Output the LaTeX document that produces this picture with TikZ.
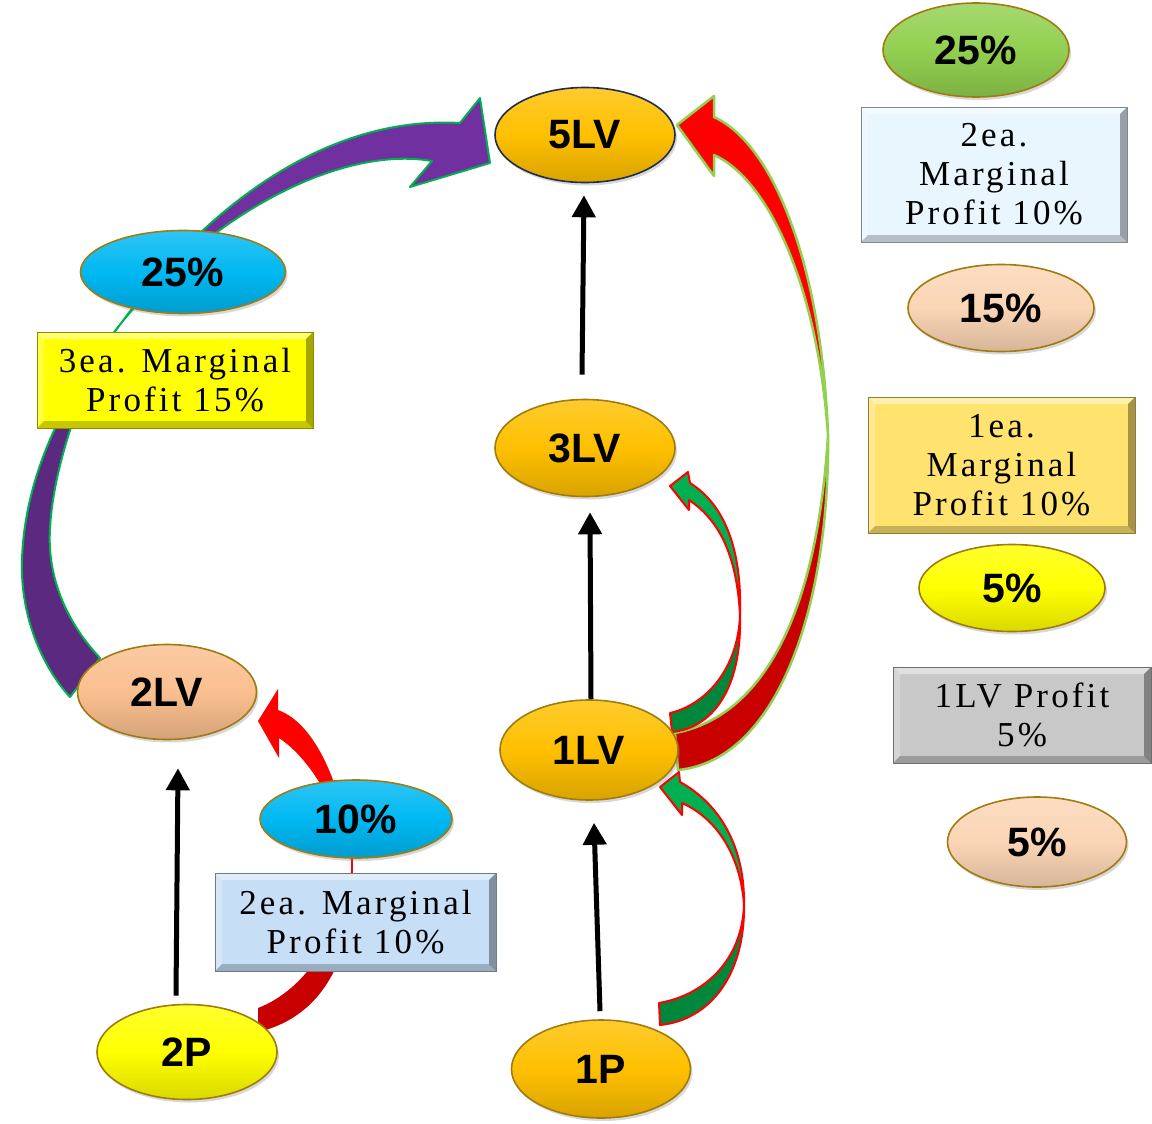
\documentclass[tikz,border=0pt]{standalone}
\usepackage{fontspec}
\usetikzlibrary{shapes.geometric,arrows.meta,shadows}
\newfontfamily\lblfont{Liberation Sans}
\newfontfamily\boxfont[LetterSpace=9]{Liberation Serif}
\definecolor{gold}{HTML}{FFC000}
\definecolor{peach}{HTML}{FABF8F}
\definecolor{lpeach}{HTML}{FBD5B5}
\definecolor{yel}{HTML}{FFFF00}
\definecolor{cyanb}{HTML}{00B8F2}
\definecolor{grn}{HTML}{92D050}
\definecolor{rimgold}{HTML}{A07C10}
\definecolor{navy}{HTML}{1F2D4F}
\definecolor{boxblue}{HTML}{C6DEF6}
\definecolor{boxice}{HTML}{EAF6FE}
\definecolor{boxgold}{HTML}{FFE36E}
\definecolor{boxgray}{HTML}{C8C8C8}
\definecolor{purpA}{HTML}{7030A0}
\definecolor{purpB}{HTML}{5B2A80}
\definecolor{redA}{HTML}{FF0000}
\definecolor{redB}{HTML}{C80000}
\definecolor{greenA}{HTML}{00B050}
\definecolor{greenB}{HTML}{00873C}
\definecolor{outlineG}{HTML}{00B050}
\definecolor{outlineL}{HTML}{92D050}
\tikzset{
  ell/.style={ellipse, inner sep=0pt,
    font=\lblfont\bfseries\fontsize{41}{48}\selectfont,
    top color=#1!82!white, bottom color=#1!85!black, middle color=#1,
    draw=rimgold, line width=1.6pt,
    drop shadow={shadow xshift=2pt, shadow yshift=-3pt, opacity=.3}},
  bevelfx/.style={path picture={
    \fill[white,opacity=.45] (path picture bounding box.north west) -- (path picture bounding box.north east)
      -- ([shift={(-7pt,-7pt)}]path picture bounding box.north east) -- ([shift={(7pt,-7pt)}]path picture bounding box.north west) -- cycle;
    \fill[white,opacity=.25] (path picture bounding box.north west) -- ([shift={(7pt,-7pt)}]path picture bounding box.north west)
      -- ([shift={(7pt,7pt)}]path picture bounding box.south west) -- (path picture bounding box.south west) -- cycle;
    \fill[black,opacity=.35] (path picture bounding box.north east) -- (path picture bounding box.south east)
      -- ([shift={(-7pt,7pt)}]path picture bounding box.south east) -- ([shift={(-7pt,-7pt)}]path picture bounding box.north east) -- cycle;
    \fill[black,opacity=.22] (path picture bounding box.south west) -- (path picture bounding box.south east)
      -- ([shift={(-7pt,7pt)}]path picture bounding box.south east) -- ([shift={(7pt,7pt)}]path picture bounding box.south west) -- cycle;
  }},
  pbox/.style={rectangle, draw=#1!55!black, line width=.8pt, fill=#1, bevelfx,
    align=center, inner sep=0pt, font=\boxfont\fontsize{35}{39}\selectfont},
  blk/.style={line width=5pt, -{Triangle[length=22pt,width=23pt]}},
  band/.style={line join=round}
}
\begin{document}
\begin{tikzpicture}[x=1pt,y=-1pt]
\useasboundingbox (0,0) rectangle (1152,1124);
\fill[white] (0,0) rectangle (1152,1124);

% purple curved arrow 2LV -> 5LV
\filldraw[band, fill=purpB, draw=outlineG, line width=2pt]
  (122,322) .. controls (80,375) and (25,460) .. (22,560)
  .. controls (20,620) and (45,670) .. (70,697) -- (100,658)
  .. controls (55,610) and (48,560) .. (50,530)
  .. controls (52,470) and (85,370) .. (122,322) -- cycle;
\filldraw[band, fill=purpA, draw=outlineG, line width=2pt]
  (122,322) .. controls (200,215) and (320,115) .. (460,123)
  -- (480,98) -- (490,163) -- (410,187) -- (432,161)
  .. controls (340,145) and (210,215) .. (122,322) -- cycle;

% big red arrow 1LV -> 5LV
\filldraw[band, fill=redB, draw=outlineL, line width=2.5pt]
  (828,435) .. controls (830,600) and (780,760) .. (678,770) -- (675,733)
  .. controls (770,715) and (818,600) .. (828,435) -- cycle;
\filldraw[band, fill=redA, draw=outlineL, line width=2.5pt]
  (714,117) .. controls (775,145) and (822,270) .. (828,435)
  .. controls (818,290) and (770,180) .. (714,155)
  -- (714,176) -- (677,125) -- (714,96) -- cycle;

% green arrow 1LV -> 3LV
\filldraw[band, fill=greenB, draw=redA, line width=2pt]
  (740,615) .. controls (742,690) and (712,728) .. (672,732) -- (670,713)
  .. controls (705,705) and (738,670) .. (740,615) -- cycle;
\filldraw[band, fill=greenA, draw=redA, line width=2pt]
  (690,483) .. controls (725,505) and (742,550) .. (740,615)
  .. controls (737,560) and (722,522) .. (689,500)
  -- (689,510) -- (670,486) -- (688,472) -- cycle;

% green arrow 1P -> 1LV
\filldraw[band, fill=greenB, draw=redA, line width=2pt]
  (744,905) .. controls (745,975) and (710,1020) .. (660,1025) -- (659,1003)
  .. controls (705,995) and (742,960) .. (744,905) -- cycle;
\filldraw[band, fill=greenA, draw=redA, line width=2pt]
  (680,782) .. controls (722,805) and (745,850) .. (744,905)
  .. controls (741,860) and (720,820) .. (682,803)
  -- (682,815) -- (660,787) -- (679,772) -- cycle;

% red arrow 2P -> 2LV
\fill[band, fill=redB]
  (352,865) .. controls (356,945) and (330,1015) .. (258,1032) -- (258,1008)
  .. controls (305,990) and (342,935) .. (352,865) -- cycle;
\fill[band, fill=redA]
  (278,710) .. controls (320,725) and (346,800) .. (352,865)
  .. controls (340,810) and (312,760) .. (279,738)
  -- (279,758) -- (258,721) -- (278,689) -- cycle;
\draw[redA, line width=1.5pt] (352,858) -- (352,873);

% main ellipses
\node[ell=gold, draw=navy, minimum width=180pt, minimum height=95pt] (lv5) at (585,135) {5LV};
\node[ell=gold, minimum width=180pt, minimum height=97pt] (lv3) at (585,448) {3LV};
\node[ell=gold, minimum width=178pt, minimum height=100pt] (lv1) at (589,750) {1LV};
\node[ell=gold, minimum width=179pt, minimum height=98pt] (p1) at (601,1069) {1P};
\node[ell=peach, minimum width=179pt, minimum height=95pt] (lv2) at (167,692) {2LV};
\node[ell=yel, minimum width=180pt, minimum height=95pt] (p2) at (187,1052) {2P};

% percentage ellipses
\node[ell=cyanb, minimum width=205pt, minimum height=83pt] (c25) at (183,272) {25\%};
\node[ell=cyanb, minimum width=192pt, minimum height=78pt] (c10) at (356,819) {10\%};
\node[ell=grn, minimum width=186pt, minimum height=94pt] (g25) at (976,50) {25\%};
\node[ell=lpeach, minimum width=186pt, minimum height=87pt] (p15) at (1001,308) {15\%};
\node[ell=yel, minimum width=186pt, minimum height=87pt] (y5) at (1012,588) {5\%};
\node[ell=lpeach, minimum width=179pt, minimum height=90pt] (p5) at (1037,842) {5\%};

% text boxes
\node[pbox=yel, minimum width=276pt, minimum height=96pt] (b3) at (175,380) {3ea. Marginal\\Profit 15\%};
\node[pbox=boxblue, minimum width=281pt, minimum height=98pt] (b2) at (355.5,922) {2ea. Marginal\\Profit 10\%};
\node[pbox=boxice, minimum width=266pt, minimum height=135pt] (r2) at (994,174.5) {2ea.\\Marginal\\Profit 10\%};
\node[pbox=boxgold, minimum width=267pt, minimum height=136pt] (r1) at (1001.5,465) {1ea.\\Marginal\\Profit 10\%};
\node[pbox=boxgray, minimum width=258pt, minimum height=96pt] (rlv) at (1022,715) {1LV Profit\\5\%};

% black arrows
\draw[blk] ([shift={(-11pt,8pt)}]p2.north) -- ([shift={(11pt,-28pt)}]lv2.south);
\draw[blk] ([shift={(-1pt,8pt)}]p1.north) -- ([shift={(5pt,-22pt)}]lv1.south);
\draw[blk] ([shift={(2pt,0pt)}]lv1.north) -- ([shift={(5pt,-15pt)}]lv3.south);
\draw[blk] ([shift={(-3pt,24pt)}]lv3.north) -- ([shift={(-1pt,-12pt)}]lv5.south);
\end{tikzpicture}
\end{document}
